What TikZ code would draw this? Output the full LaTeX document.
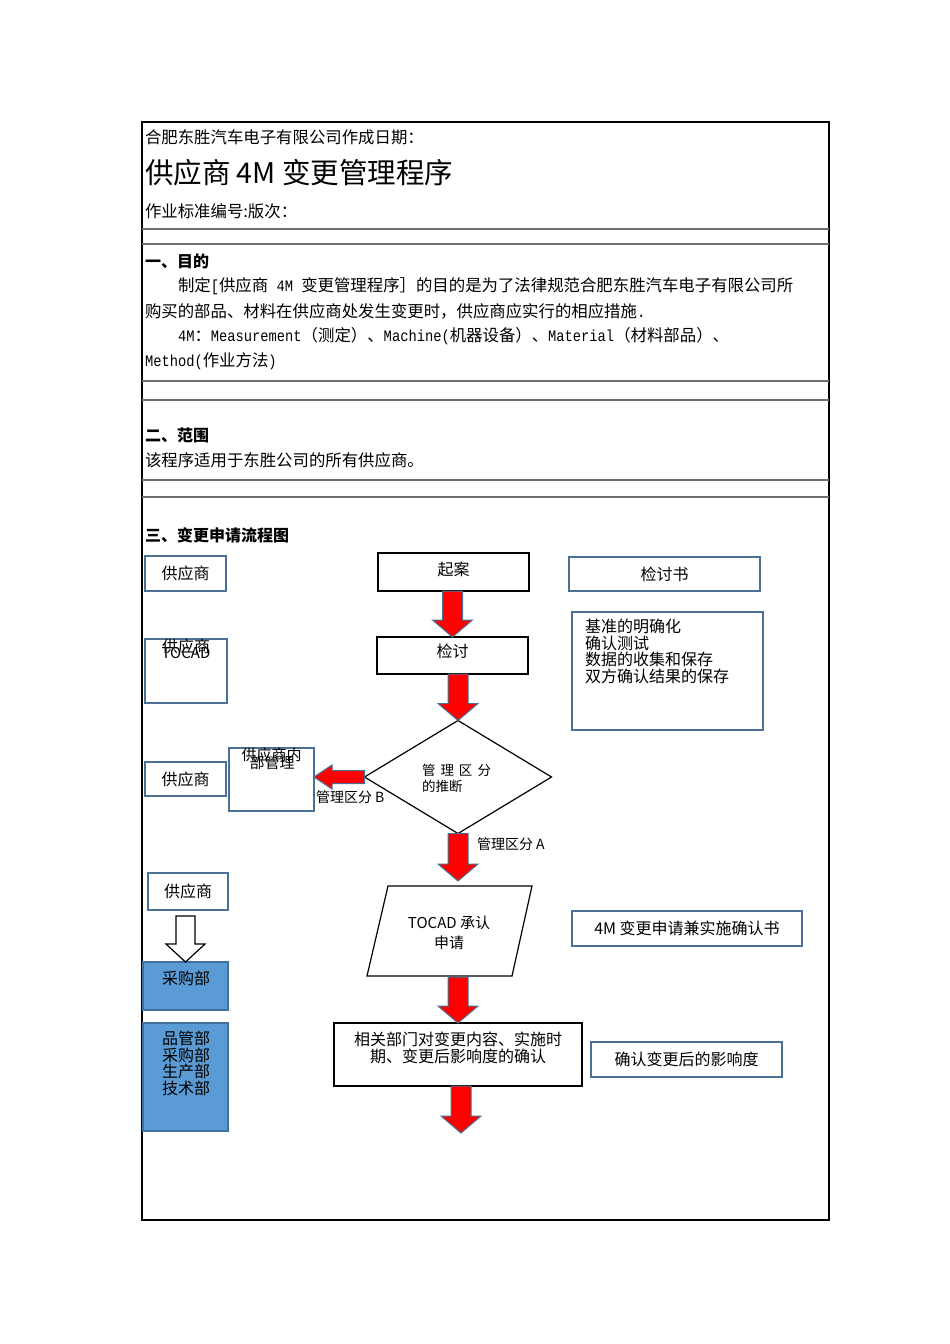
\documentclass[tikz,border=0pt]{standalone}
\usepackage{fontspec}
\setmainfont{Noto Sans CJK SC}
\newfontfamily\lmono[FakeStretch=0.86]{Liberation Mono}
\newcommand{\lm}[1]{{\lmono\fontsize{16}{18}\selectfont #1}}
\usetikzlibrary{shapes.geometric,calc}
\definecolor{bblue}{RGB}{74,112,150}
\definecolor{fillblue}{RGB}{91,155,213}
\definecolor{fbord}{RGB}{65,113,156}
\definecolor{rulegray}{RGB}{110,110,110}
\newcommand{\dnarrow}[2]{%
  \path[redarrow] let \p1=#1, \p2=#2 in
  (\x2-10pt,\y1) -- (\x2+10pt,\y1) -- (\x2+10pt,\y2+17pt) -- (\x2+20pt,\y2+17pt)
  -- (\x2,\y2) -- (\x2-20pt,\y2+17pt) -- (\x2-10pt,\y2+17pt) -- cycle;}
\begin{document}
\begin{tikzpicture}[x=1pt,y=-1pt,
  every node/.style={inner sep=0pt, outer sep=0pt},
  txt/.style={font=\fontsize{16}{18}\selectfont},
  btxt/.style={font=\fontsize{16.4}{18}\selectfont},
  stxt/.style={font=\fontsize{14}{16}\selectfont},
  bbox/.style={draw=bblue, line width=1.4pt},
  kbox/.style={draw=black, line width=1.4pt},
  fbox/.style={draw=fbord, fill=fillblue, line width=1.2pt},
  redarrow/.style={fill=red, draw=bblue, line width=1pt},
  rule/.style={draw=rulegray, line width=1.2pt}]

\path[fill=white] (0,0) rectangle (950,1344);
\useasboundingbox (0,0) rectangle (950,1344);

% outer frame
\node[draw=black, line width=1.5pt, minimum width=687, minimum height=1098] (frame) at (485.5,671) {};

% header
\node[btxt, anchor=west] (hd1) at (145,137) {合肥东胜汽车电子有限公司作成日期：};
\node[anchor=west, font=\fontsize{28.5}{32}\selectfont] (title) at (145,173) {供应商 4M 变更管理程序};
\node[btxt, anchor=west] (hd2) at (145,211) {作业标准编号:版次：};
\draw[rule] (142,229) -- (829,229);
\draw[rule] (142,244) -- (829,244);

% section 1
\node[anchor=west, font=\bfseries\fontsize{16}{18}\selectfont] (s1) at (145,261) {一、目的};
\node[btxt, anchor=west] (p1) at (178,286) {制定\lm{[}供应商\lm{ 4M }变更管理程序］的目的是为了法律规范合肥东胜汽车电子有限公司所};
\node[btxt, anchor=west] (p2) at (145,311) {购买的部品、材料在供应商处发生变更时，供应商应实行的相应措施\lm{.}};
\node[btxt, anchor=west] (p3) at (178,336) {\lm{4M}：\lm{Measurement}（测定）、\lm{Machine(}机器设备）、\lm{Material}（材料部品）、};
\node[btxt, anchor=west] (p4) at (145,361) {\lm{Method(}作业方法\lm{)}};
\draw[rule] (142,381) -- (829,381);
\draw[rule] (142,400) -- (829,400);

% section 2
\node[anchor=west, font=\bfseries\fontsize{16}{18}\selectfont] (s2) at (145,435) {二、范围};
\node[btxt, anchor=west] (s2t) at (145,460) {该程序适用于东胜公司的所有供应商。};
\draw[rule] (142,480) -- (829,480);
\draw[rule] (142,497) -- (829,497);

% section 3
\node[anchor=west, font=\bfseries\fontsize{16}{18}\selectfont] (s3) at (145,535) {三、变更申请流程图};

% left column
\node[bbox, txt, minimum width=81, minimum height=35] (sup1) at (185.5,573.5) {供应商};
\node[bbox, minimum width=82, minimum height=64] (sup2) at (186,671) {};
\node[txt] (sup2a) at (186,646) {供应商};
\node[font=\fontsize{15}{17}\selectfont] (sup2b) at (186,653) {TOCAD};
\node[bbox, txt, minimum width=81, minimum height=34] (sup3) at (185.5,779) {供应商};
\node[bbox, minimum width=85, minimum height=63] (inner) at (271.5,779.5) {};
\node[font=\fontsize{15}{17}\selectfont] (innera) at (271.5,755) {供应商内};
\node[font=\fontsize{15}{17}\selectfont] (innerb) at (272,763) {部管理};
\node[bbox, txt, minimum width=80, minimum height=37] (sup4) at (188,891.5) {供应商};
\node[fbox, minimum width=85, minimum height=48] (cg) at (185.5,986) {};
\node[txt] (cgt) at (186,978) {采购部};
\node[fbox, minimum width=85, minimum height=108] (depts) at (185.5,1077) {};
\node[font=\fontsize{16}{16.5}\selectfont, align=center, anchor=north] (deptst) at (186,1031) {品管部\\采购部\\生产部\\技术部};

% hollow arrow
\path[draw=black, fill=white, line width=1.2pt] let \p1=(sup4.south), \p2=(cg.north) in
  (\x2-9.5pt,\y1-6pt) -- (\x2+9.5pt,\y1-6pt) -- (\x2+9.5pt,\y2+18pt) -- (\x2+19.5pt,\y2+18pt)
  -- (\x2,\y2) -- (\x2-19.5pt,\y2+18pt) -- (\x2-9.5pt,\y2+18pt) -- cycle;

% center column
\node[kbox, minimum width=151, minimum height=38] (qian) at (453.5,572) {};
\node[txt] (qiant) at (453.5,569) {起案};
\node[kbox, minimum width=151, minimum height=37] (jt) at (452.5,655.5) {};
\node[txt] (jtt) at (452.5,651) {检讨};
\node[draw=black, line width=1.2pt, diamond, minimum width=187, minimum height=113] (dia) at (458,777) {};
\node[anchor=west, font=\fontsize{13.5}{15}\selectfont] (diat1) at (422,770) {管\hspace{5pt}理\hspace{5pt}区\hspace{5pt}分};
\node[anchor=west, font=\fontsize{13.5}{15}\selectfont] (diat2) at (422,786) {的推断};
\node[anchor=west, stxt] (labB) at (316,797) {管理区分 B};
\node[anchor=west, stxt] (labA) at (477,844) {管理区分 A};

\coordinate (ptl) at (388,886);
\coordinate (ptr) at (532,886);
\coordinate (pbr) at (512,976);
\coordinate (pbl) at (367,976);
\draw[black, line width=1.2pt] (ptl) -- (ptr) -- (pbr) -- (pbl) -- cycle;
\node[font=\fontsize{15}{20}\selectfont, align=center] (para) at (449,933) {TOCAD 承认\\申请};
\coordinate (pin) at (458,881);
\coordinate (pout) at (458,977);

\node[kbox, minimum width=248, minimum height=63] (conf) at (458,1054.5) {};
\node[font=\fontsize{16}{16.5}\selectfont, align=center, anchor=north] (conft) at (458,1032) {相关部门对变更内容、实施时\\期、变更后影响度的确认};
\coordinate (end5) at (461,1133);

% right column
\node[bbox, txt, minimum width=191, minimum height=34] (jtshu) at (664.5,574) {检讨书};
\node[bbox, minimum width=191, minimum height=118] (crit) at (667.5,671) {};
\node[font=\fontsize{16}{16.7}\selectfont, align=left, anchor=north west] (critt) at (585,619) {基准的明确化\\确认测试\\数据的收集和保存\\双方确认结果的保存};
\node[bbox, txt, minimum width=230, minimum height=35] (f4m) at (687,928.5) {4M 变更申请兼实施确认书};
\node[bbox, txt, minimum width=191, minimum height=35] (yx) at (686.5,1059.5) {确认变更后的影响度};

% red arrows
\dnarrow{(qian.south)}{(jt.north)}
\dnarrow{(jt.south)}{(dia.north)}
\dnarrow{(dia.south)}{(pin)}
\dnarrow{(pout)}{(conf.north)}
\dnarrow{(conf.south)}{(end5)}
\path[redarrow] let \p1=(dia.west), \p2=(inner.east) in
  (\x1,\y1+6.5pt) -- (\x2+18pt,\y1+6.5pt) -- (\x2+18pt,\y1+12pt) -- (\x2,\y1)
  -- (\x2+18pt,\y1-12pt) -- (\x2+18pt,\y1-6.5pt) -- (\x1,\y1-6.5pt) -- cycle;
\end{tikzpicture}
\end{document}
